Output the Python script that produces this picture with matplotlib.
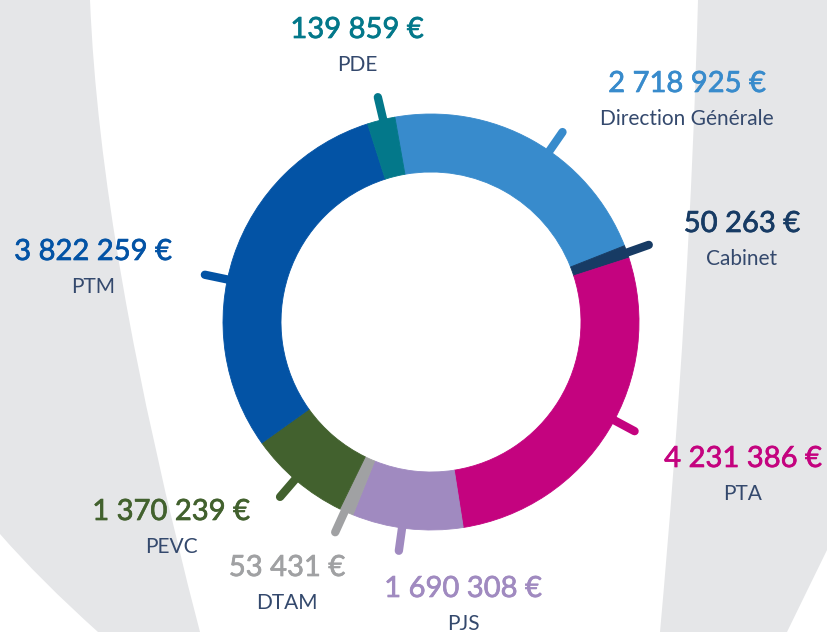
import numpy as np
import matplotlib
matplotlib.use("Agg")
import matplotlib.pyplot as plt
import matplotlib.patheffects as pe
from matplotlib.path import Path
from matplotlib.patches import PathPatch

# budget per department (labels) and the share of the ring each one gets in the picture (%)
names = ["Direction Générale", "Cabinet", "PTA", "PJS", "DTAM", "PEVC", "PTM", "PDE"]
amounts = [2718925, 50263, 4231386, 1690308, 53431, 1370239, 3822259, 139859]
drawn_share = [21.8, 1.0, 27.5, 8.6, 1.1, 7.9, 29.95, 2.15]
colors = ["#388bcc", "#173b64", "#c4037f", "#a08ac0", "#a0a1a3", "#42612e", "#0353a5", "#03788a"]

W, H = 828, 632
CX, CY = 431, 322
R_OUT, R_IN = 208, 150

# where the little ticks sit (degrees clockwise from top) and where the labels go (px)
tick_angles = [34.7, 70.5, 118.2, 188.0, 204.5, 220.8, 281.8, 346.7]
label_xy = [(687, 84), (742, 224), (743, 459), (463, 589), (287, 568),
            (171, 512), (93, 252), (357, 30)]


def fmt(v):
    return f"{v:,}".replace(",", " ") + " €"


def flip(y):
    return H - y


fig = plt.figure(figsize=(W / 100, H / 100), dpi=100)
ax = fig.add_axes([0, 0, 1, 1])

# grey background shapes
grey = "#e5e6e8"
left = Path([(0, flip(0)), (90, flip(0)), (100, flip(250)), (200, flip(632)),
             (98, flip(632)), (40, flip(580)), (0, flip(534)), (0, flip(0))],
            [Path.MOVETO, Path.LINETO, Path.CURVE3, Path.CURVE3,
             Path.LINETO, Path.CURVE3, Path.CURVE3, Path.CLOSEPOLY])
right = Path([(698, flip(0)), (W, flip(0)), (W, flip(548)), (805, flip(595)), (787, flip(632)),
              (660, flip(632)), (690, flip(300)), (698, flip(0))],
             [Path.MOVETO, Path.LINETO, Path.LINETO, Path.CURVE3, Path.CURVE3,
              Path.LINETO, Path.CURVE3, Path.CURVE3])
ax.add_patch(PathPatch(left, facecolor=grey, edgecolor="none", zorder=0))
ax.add_patch(PathPatch(right, facecolor=grey, edgecolor="none", zorder=0))

# ticks
for ang, c in zip(tick_angles, colors):
    t = np.deg2rad(ang)
    r = np.array([R_OUT - 10, R_OUT + 23])
    ax.plot(CX + r * np.sin(t), flip(CY - r * np.cos(t)), color=c, lw=6,
            solid_capstyle="round", zorder=1)

# the ring
wedges, _ = ax.pie(drawn_share, colors=colors, startangle=100, counterclock=False,
                   radius=R_OUT, center=(CX, flip(CY)),
                   wedgeprops=dict(width=R_OUT - R_IN, linewidth=0.6, edgecolor=None))
for w, c in zip(wedges, colors):
    w.set_edgecolor(c)
    w.set_zorder(2)

# labels
name_color = "#34496d"
for n, v, c, (x, y) in zip(names, amounts, colors, label_xy):
    ax.text(x, flip(y), fmt(v), color=c, fontsize=21, family="Lato",
            ha="center", va="center",
            path_effects=[pe.withStroke(linewidth=0.5, foreground=c)])
    ax.text(x, flip(y + 35), n, color=name_color, fontsize=15, fontweight="normal",
            family="Lato", ha="center", va="center")

ax.set_xlim(0, W)
ax.set_ylim(0, H)
ax.set_aspect("equal")
ax.axis("off")
fig.savefig("out.png", dpi=100, facecolor="white")
